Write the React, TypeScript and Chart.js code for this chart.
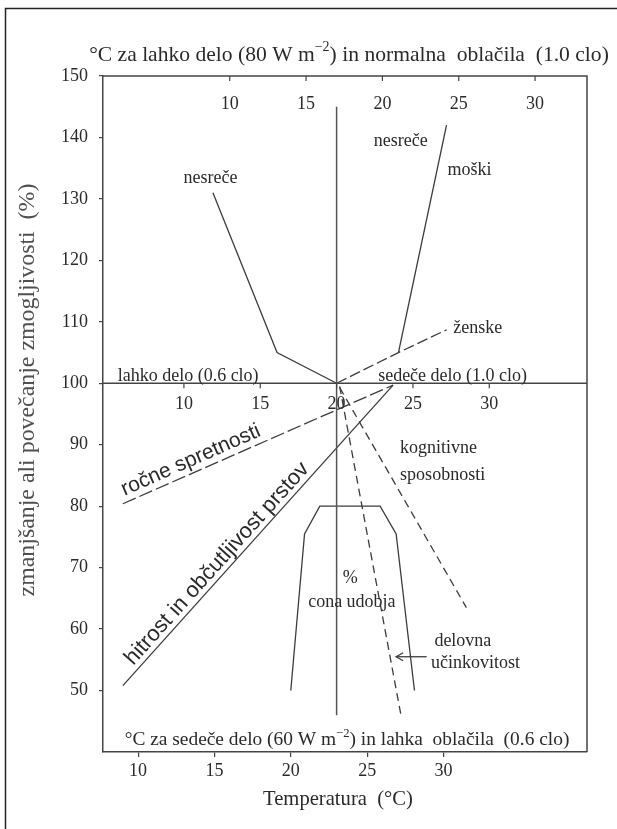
import React, { useEffect, useRef } from "react";
import { Chart, registerables } from "chart.js";
Chart.register(...registerables);

// ---- axis ranges and ticks (bottom scale = °C for sedentary work) ----
const xRange = [7.7, 39.4];
const yRange = [40, 150];
const yTickValues = [50, 60, 70, 80, 90, 100, 110, 120, 130, 140, 150];
const bottomTickValues = [10, 15, 20, 25, 30];
const topTickLabels = [10, 15, 20, 25, 30];
const topScaleOffset = 6; // light work scale shifted against the bottom scale
const middleTickLabels = [10, 15, 20, 25, 30];
const middleScaleOffset = 3;

// ---- series ----
const vertX = [23, 23];
const vertY = [145, 46];
const baseX = [7.7, 39.4];
const baseY = [100, 100];
const nesreceX = [14.9, 19.1, 23];
const nesreceY = [131, 105, 100];
const zenskeX = [23, 27.05, 30.2];
const zenskeY = [100, 105, 108.7];
const moskiX = [27.05, 30.2];
const moskiY = [105, 142];
const rocneX = [9, 26.7];
const rocneY = [80.4, 99.7];
const hitrostX = [9, 26.7];
const hitrostY = [50.8, 99.7];
const delovnaX = [23.2, 27.2];
const delovnaY = [99.5, 46.2];
const kognitivneX = [23.2, 31.5];
const kognitivneY = [99.3, 63.5];
const conaX = [20, 20.9, 21.9, 25.85, 26.9, 28.1];
const conaY = [50, 75.5, 80, 80, 75.5, 50];
const arrowX = [28.9, 26.9];
const arrowY = [55.5, 55.5];

const SERIF = "'Liberation Serif', 'Times New Roman', serif";
const SANS = "'Liberation Sans', Arial, sans-serif";
const INK = "#2a2a2a";
const LINE = "#3c3c3c";

const pts = (xs: number[], ys: number[]) => xs.map((x, i) => ({ x, y: ys[i] }));

function ds(label: string, xs: number[], ys: number[], dash: number[] = [], width = 1.3, color = LINE) {
  return {
    label,
    data: pts(xs, ys),
    showLine: true,
    borderColor: color,
    borderWidth: width,
    borderDash: dash,
    pointRadius: 0,
    fill: false,
    tension: 0,
  };
}

type TOpts = {
  size?: number;
  family?: string;
  align?: CanvasTextAlign;
  color?: string;
  width?: number;
  angle?: number;
};

function drawText(ctx: CanvasRenderingContext2D, s: string, x: number, y: number, o: TOpts = {}) {
  const family = o.family || SERIF;
  let size = o.size || 18;
  ctx.save();
  ctx.font = `${size}px ${family}`;
  if (o.width) {
    const w = ctx.measureText(s).width;
    size = (size * o.width) / w;
    ctx.font = `${size}px ${family}`;
  }
  ctx.fillStyle = o.color || INK;
  ctx.textAlign = o.align || "center";
  ctx.textBaseline = "middle";
  ctx.translate(x, y);
  if (o.angle) ctx.rotate(o.angle);
  ctx.fillText(s, 0, 0);
  ctx.restore();
}

// text with superscript, centred at cx, fitted to total width
function drawSupText(ctx: CanvasRenderingContext2D, parts: { t: string; sup?: boolean }[], cx: number, y: number, width: number) {
  const measure = (size: number) => {
    let w = 0;
    for (const p of parts) {
      ctx.font = `${p.sup ? size * 0.65 : size}px ${SERIF}`;
      w += ctx.measureText(p.t).width;
    }
    return w;
  };
  ctx.save();
  const size = (18 * width) / measure(18);
  let x = cx - measure(size) / 2;
  ctx.fillStyle = INK;
  ctx.textAlign = "left";
  ctx.textBaseline = "middle";
  for (const p of parts) {
    const s = p.sup ? size * 0.65 : size;
    ctx.font = `${s}px ${SERIF}`;
    ctx.fillText(p.t, x, p.sup ? y - size * 0.35 : y);
    x += ctx.measureText(p.t).width;
  }
  ctx.restore();
}

const annotations = {
  id: "annotations",
  afterDraw(chart: any) {
    const ctx: CanvasRenderingContext2D = chart.ctx;
    const xs = chart.scales.x;
    const ys = chart.scales.y;
    const X = (v: number) => xs.getPixelForValue(v);
    const Y = (v: number) => ys.getPixelForValue(v);
    const a = chart.chartArea;

    ctx.save();
    // outer frame (top + left)
    ctx.strokeStyle = "#222";
    ctx.lineWidth = 1.5;
    ctx.beginPath();
    ctx.moveTo(5.5, chart.height);
    ctx.lineTo(5.5, 8.5);
    ctx.lineTo(chart.width, 8.5);
    ctx.stroke();

    // plot box top + right
    ctx.strokeStyle = "#444";
    ctx.lineWidth = 1.5;
    ctx.beginPath();
    ctx.moveTo(a.left, a.top);
    ctx.lineTo(a.right, a.top);
    ctx.lineTo(a.right, a.bottom);
    ctx.stroke();

    // top (light work) scale ticks and labels
    ctx.lineWidth = 1.2;
    for (const t of topTickLabels) {
      const px = X(t + topScaleOffset);
      ctx.beginPath();
      ctx.moveTo(px, a.top);
      ctx.lineTo(px, a.top + 5);
      ctx.stroke();
      drawText(ctx, String(t), px, Y(145.4), { size: 18 });
    }
    // middle (sedentary) scale ticks and labels on the 100 % line
    for (const t of middleTickLabels) {
      const px = X(t + middleScaleOffset);
      ctx.beginPath();
      ctx.moveTo(px, Y(100));
      ctx.lineTo(px, Y(100) + 5);
      ctx.stroke();
      drawText(ctx, String(t), px, Y(96.6), { size: 18 });
    }
    ctx.restore();

    // arrow head
    const ax = X(arrowX[1]);
    const ay = Y(arrowY[1]);
    ctx.save();
    ctx.strokeStyle = LINE;
    ctx.lineWidth = 1.3;
    ctx.beginPath();
    ctx.moveTo(ax + 7, ay - 4);
    ctx.lineTo(ax, ay);
    ctx.lineTo(ax + 7, ay + 4);
    ctx.stroke();
    ctx.restore();

    // titles
    drawSupText(
      ctx,
      [{ t: "°C za lahko delo (80 W m" }, { t: "−2", sup: true }, { t: ") in normalna  oblačila  (1.0 clo)" }],
      349,
      55,
      520
    );
    drawSupText(
      ctx,
      [{ t: "°C za sedeče delo (60 W m" }, { t: "−2", sup: true }, { t: ") in lahka  oblačila  (0.6 clo)" }],
      347,
      Y(41.9),
      445
    );
    drawText(ctx, "Temperatura  (°C)", 338, 800, { width: 150 });
    drawText(ctx, "zmanjšanje ali povečanje zmogljivosti  (%)", 28, 390, {
      width: 413,
      angle: -Math.PI / 2,
      color: "#505050",
    });

    // labels
    drawText(ctx, "nesreče", X(14.74), Y(133.3), { size: 18 });
    drawText(ctx, "nesreče", X(27.2), Y(139.4), { size: 18 });
    drawText(ctx, "moški", X(31.7), Y(134.6), { size: 18 });
    drawText(ctx, "ženske", X(32.25), Y(108.9), { size: 18 });
    drawText(ctx, "lahko delo (0.6 clo)", X(8.66), Y(101.2), { size: 18, align: "left" });
    drawText(ctx, "sedeče delo (1.0 clo)", X(25.72), Y(101.2), { size: 18, align: "left" });
    drawText(ctx, "kognitivne", X(27.16), Y(89.35), { size: 18, align: "left" });
    drawText(ctx, "sposobnosti", X(27.16), Y(84.96), { size: 18, align: "left" });
    drawText(ctx, "%", X(23.9), Y(68.2), { size: 18 });
    drawText(ctx, "cona udobja", X(24.0), Y(64.3), { size: 18 });
    drawText(ctx, "delovna", X(31.27), Y(58.1), { size: 18 });
    drawText(ctx, "učinkovitost", X(32.1), Y(54.4), { size: 18 });

    // rotated labels along their lines
    const along = (lx: number[], ly: number[], t: number, off: number, s: string, w: number) => {
      const x0 = X(lx[0]), y0 = Y(ly[0]), x1 = X(lx[1]), y1 = Y(ly[1]);
      const ang = Math.atan2(y1 - y0, x1 - x0);
      const cx = x0 + t * (x1 - x0) + Math.sin(ang) * off;
      const cy = y0 + t * (y1 - y0) - Math.cos(ang) * off;
      drawText(ctx, s, cx, cy, { family: SANS, width: w, angle: ang });
    };
    along(rocneX, rocneY, 0.27, 12.5, "ročne spretnosti", 150);
    along(hitrostX, hitrostY, 0.38, 11.5, "hitrost in občutljivost prstov", 264);
  },
};

export default function App() {
  const ref = useRef<HTMLCanvasElement>(null);
  useEffect(() => {
    if (!ref.current) return;
    const chart = new Chart(ref.current, {
      type: "scatter",
      data: {
        datasets: [
          ds("os", vertX, vertY, [], 1.5, "#555"),
          ds("100 %", baseX, baseY, [], 1.5, "#444"),
          ds("nesreče", nesreceX, nesreceY),
          ds("ženske", zenskeX, zenskeY, [11, 4]),
          ds("moški", moskiX, moskiY),
          ds("ročne spretnosti", rocneX, rocneY, [14, 4]),
          ds("hitrost in občutljivost prstov", hitrostX, hitrostY),
          ds("delovna učinkovitost", delovnaX, delovnaY, [8, 5]),
          ds("kognitivne sposobnosti", kognitivneX, kognitivneY, [8, 5]),
          ds("cona udobja", conaX, conaY),
          ds("puščica", arrowX, arrowY),
        ] as any,
      },
      options: {
        responsive: false,
        animation: false,
        devicePixelRatio: 1,
        layout: { padding: { left: 0, top: 76, right: 30, bottom: 0 } },
        plugins: { legend: { display: false }, tooltip: { enabled: false } },
        scales: {
          x: {
            type: "linear",
            position: "bottom",
            min: xRange[0],
            max: xRange[1],
            afterBuildTicks: (s: any) => {
              s.ticks = bottomTickValues.map((v) => ({ value: v }));
            },
            afterFit: (s: any) => {
              s.height = 77;
            },
            grid: { drawOnChartArea: false, drawTicks: true, tickLength: 5, color: "#444", lineWidth: 1.2 },
            border: { display: true, color: "#444", width: 1.5 },
            ticks: {
              font: { family: SERIF, size: 18 },
              color: INK,
              padding: 3,
              maxRotation: 0,
              autoSkip: false,
            },
          },
          y: {
            type: "linear",
            min: yRange[0],
            max: yRange[1],
            afterBuildTicks: (s: any) => {
              s.ticks = yTickValues.map((v) => ({ value: v }));
            },
            afterFit: (s: any) => {
              s.width = 103;
            },
            grid: { drawOnChartArea: false, drawTicks: true, tickLength: 4, color: "#444", lineWidth: 1.2 },
            border: { display: true, color: "#444", width: 1.5 },
            ticks: {
              font: { family: SERIF, size: 18 },
              color: INK,
              padding: 11,
              autoSkip: false,
            },
          },
        },
      },
      plugins: [annotations],
    } as any);
    return () => chart.destroy();
  }, []);

  return (
    <div style={{ position: "absolute", left: 0, top: 0, width: 617, height: 829, background: "#fff" }}>
      <canvas ref={ref} width={617} height={829} style={{ display: "block", width: 617, height: 829 }} />
    </div>
  );
}
